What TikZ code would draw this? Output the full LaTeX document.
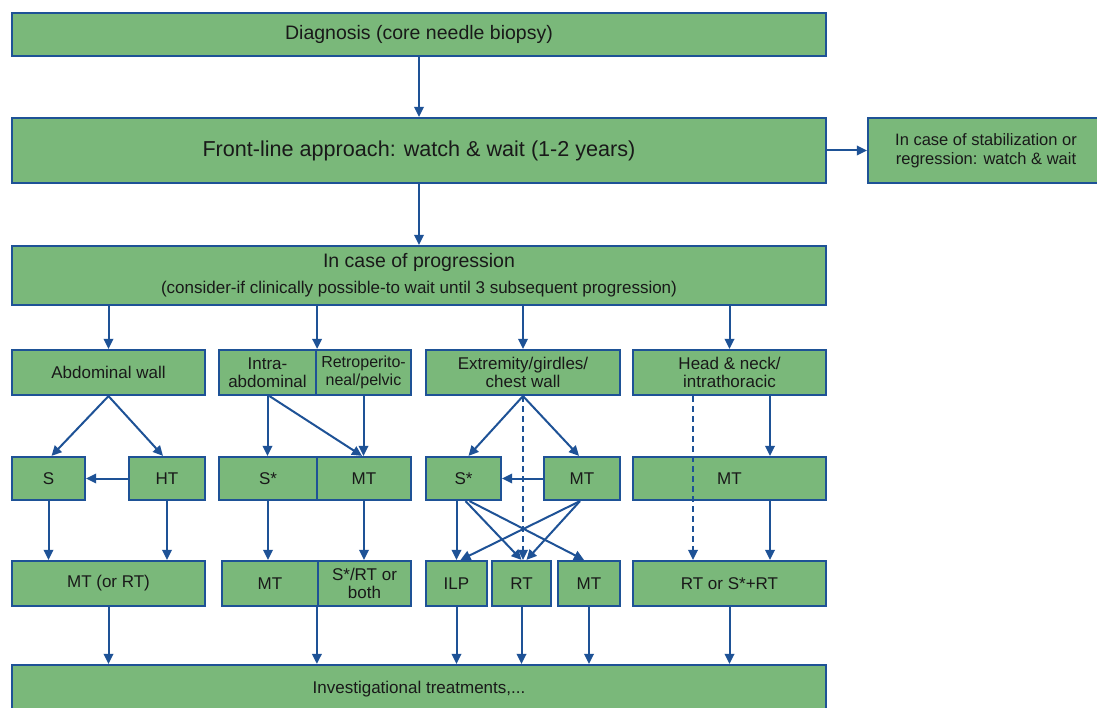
\documentclass[tikz,border=0pt]{standalone}
\usepackage{fontspec}
\setmainfont{Liberation Sans}
\usetikzlibrary{arrows.meta,calc}
\definecolor{boxfill}{RGB}{122,184,122}
\definecolor{edgeblue}{RGB}{30,82,150}
\definecolor{txt}{RGB}{25,25,25}
\newcommand{\bx}[7][]{\node[box,minimum width={(#5-#3)*1pt},minimum height={(#6-#4)*1pt},#1] (#2) at ({(#3+#5)/2},{(#4+#6)/2}) {#7};}
\begin{document}
\begin{tikzpicture}[x=1pt,y=-1pt,
  box/.style={draw=edgeblue,fill=boxfill,line width=2.2pt,inner sep=0pt,align=center,text=txt,font=\fontsize{17}{17.5}\selectfont},
  arr/.style={draw=edgeblue,line width=2pt,-{Triangle[length=10pt,width=9.5pt]}},
  darr/.style={arr,dash pattern=on 6pt off 4pt}]
\useasboundingbox (0,0) rectangle (1097,708);
% top
\bx[font=\fontsize{19.5}{20}\selectfont]{diag}{12}{13}{826}{56}{Diagnosis (core needle biopsy)}
\bx[font=\fontsize{21.6}{23}\selectfont]{front}{12}{118}{826}{183}{Front-line approach: watch \& wait (1-2 years)}
\bx[font=\fontsize{16.5}{19}\selectfont]{stab}{868}{118}{1104}{183}{In case of stabilization or\\regression: watch \& wait}
\bx[font=\fontsize{17}{26}\selectfont]{prog}{12}{246}{826}{305}{{\fontsize{19.5}{26}\selectfont In case of progression}\\(consider-if clinically possible-to wait until 3 subsequent progression)}
% row 1
\bx{abd}{12}{350}{205}{395}{Abdominal wall}
\bx{intra}{219}{350}{316}{395}{Intra-\\abdominal}
\bx[font=\fontsize{16}{17.5}\selectfont]{retro}{316}{350}{411}{395}{Retroperito-\\neal/pelvic}
\bx{ext}{426}{350}{620}{395}{Extremity/girdles/\\chest wall}
\bx{head}{633}{350}{826}{395}{Head \& neck/\\intrathoracic}
% row 2
\bx{s}{12}{457}{85}{500}{S}
\bx{ht}{129}{457}{205}{500}{HT}
\bx{ssa}{219}{457}{317}{500}{S*}
\bx{mta}{317}{457}{411}{500}{MT}
\bx{ssb}{426}{457}{501}{500}{S*}
\bx{mtb}{544}{457}{620}{500}{MT}
\bx{mtc}{633}{457}{826}{500}{MT}
% row 3
\bx{mtr}{12}{561}{205}{606}{MT (or RT)}
\bx{mtd}{222}{561}{318}{606}{MT}
\bx{srt}{318}{561}{411}{606}{S*/RT or\\both}
\bx{ilp}{426}{561}{487}{606}{ILP}
\bx{rt}{492}{561}{551}{606}{RT}
\bx{mte}{558}{561}{620}{606}{MT}
\bx{rsrt}{633}{561}{826}{606}{RT or S*+RT}
% bottom
\bx{inv}{12}{665}{826}{725}{}
\node[font=\fontsize{17}{17}\selectfont,text=txt] (invt) at (419,689) {Investigational treatments,...};
% arrows top
\draw[arr] (diag.south) -- (front.north);
\draw[arr] (front.east) -- (stab.west);
\draw[arr] (front.south) -- (prog.north);
\draw[arr] (abd.north |- prog.south) -- (abd.north);
\draw[arr] (intra.north east |- prog.south) -- (intra.north east);
\draw[arr] (ext.north |- prog.south) -- (ext.north);
\draw[arr] (head.north |- prog.south) -- (head.north);
% abdominal wall
\draw[arr] (abd.south) -- ($(s.north)+(3,0)$);
\draw[arr] (abd.south) -- ($(ht.north)+(-4,0)$);
\draw[arr] (ht.west) -- (s.east);
\draw[arr] (s.south) -- (s.south |- mtr.north);
\draw[arr] (ht.south) -- (ht.south |- mtr.north);
% intra / retro
\draw[arr] (intra.south) -- (intra.south |- ssa.north);
\draw[arr] ($(intra.south)+(2,0)$) -- ($(mta.north)+(-2,0)$);
\draw[arr] (retro.south) -- (retro.south |- mta.north);
\draw[arr] (ssa.south) -- (ssa.south |- mtd.north);
\draw[arr] (mta.south) -- (mta.south |- srt.north);
% extremity
\draw[arr] (ext.south) -- ($(ssb.north)+(5,0)$);
\draw[arr] (ext.south) -- ($(mtb.north)+(-3,0)$);
\draw[darr] (ext.south) -- (ext.south |- rt.north);
\draw[arr] (mtb.west) -- (ssb.east);
\draw[arr] (ilp.north |- ssb.south) -- (ilp.north);
\draw[arr] ($(ssb.south)+(2,0)$) -- ($(rt.north)+(0,0)$);
\draw[arr] ($(ssb.south)+(6,0)$) -- ($(mte.north)+(-5,0)$);
\draw[arr] ($(mtb.south)+(-2,0)$) -- ($(ilp.north)+(4,0)$);
\draw[arr] ($(mtb.south)+(-2,0)$) -- ($(rt.north)+(5,0)$);
% head
\draw[darr] (head.south -| 693,0) -- (rsrt.north -| 693,0);
\draw[arr] (head.south -| 770,0) -- (mtc.north -| 770,0);
\draw[arr] (mtc.south -| 770,0) -- (rsrt.north -| 770,0);
% to investigational
\draw[arr] (mtr.south) -- (mtr.south |- inv.north);
\draw[arr] (srt.south west) -- (srt.south west |- inv.north);
\draw[arr] (ilp.south) -- (ilp.south |- inv.north);
\draw[arr] (rt.south) -- (rt.south |- inv.north);
\draw[arr] (mte.south) -- (mte.south |- inv.north);
\draw[arr] (rsrt.south) -- (rsrt.south |- inv.north);
\end{tikzpicture}
\end{document}
